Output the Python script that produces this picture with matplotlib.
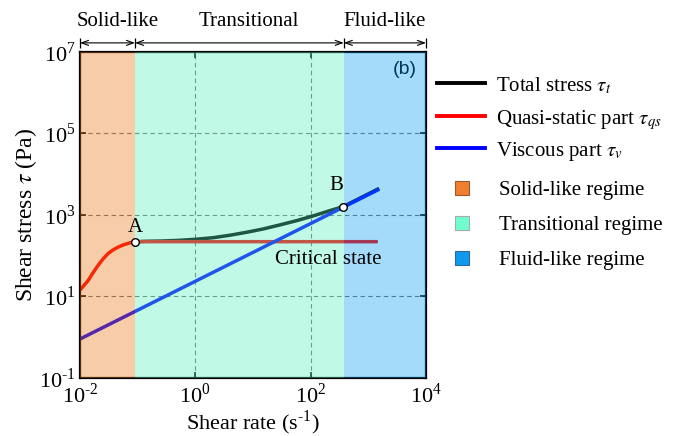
import matplotlib
matplotlib.use("Agg")
import matplotlib.pyplot as plt
from matplotlib.lines import Line2D
from matplotlib.patches import Rectangle
from matplotlib.ticker import FixedLocator, FuncFormatter, NullLocator
import numpy as np

plt.rcParams['font.family'] = ['Liberation Serif', 'DejaVu Serif']
plt.rcParams['mathtext.fontset'] = 'stix'

# values
rate_qs = [0.01, 0.0117, 0.0138, 0.0168, 0.0205, 0.0251, 0.0305, 0.0372, 0.0456,
           0.0562, 0.0679, 0.0794, 0.091, 1460]
tau_qs = [14.5, 18.6, 24.5, 38, 57.5, 83, 112, 138, 162, 184, 200, 214, 221, 221]

rate_v = [0.01, 1540]
tau_v = [0.905, 4270]

rate_total = [0.0908, 0.143, 0.278, 0.541, 1.05, 2.04, 3.98, 7.74, 15.0, 29.2,
              57.0, 110, 215, 366, 1540]
tau_total = [221, 226, 230, 239, 254, 277, 318, 376, 453, 569, 724, 944, 1276,
             1600, 4470]

point_rate = [0.0908, 366]
point_tau = [221, 1600]

regime_names = ['Solid-like', 'Transitional', 'Fluid-like']
regime_edges = [0.01, 0.09, 375, 10000]
regime_colors = ['#eb7310', '#55f0bd', '#059bf2']

fig = plt.figure(figsize=(6.79, 4.36), dpi=100)
ax = fig.add_axes([0.1178, 0.133, 0.5096, 0.748])

ax.plot(rate_total, tau_total, color='black', lw=2.5, zorder=2, solid_capstyle='butt')
ax.plot(rate_qs, tau_qs, color='red', lw=2.5, zorder=2.1, solid_capstyle='butt')
ax.plot(rate_v, tau_v, color='blue', lw=2.5, zorder=2.2, solid_capstyle='butt')

ax.text(6900, 3.6e6, '(b)', ha='right', va='center', fontsize=14,
        family='Liberation Sans', zorder=2.3)

for i in range(3):
    ax.axvspan(regime_edges[i], regime_edges[i + 1], color=regime_colors[i],
               alpha=0.36, lw=0, zorder=5)

ax.plot(point_rate, point_tau, 'o', ms=5.5, mfc='white', mec='black', mew=1, zorder=6)
ax.text(0.09, 479, 'A', ha='center', va='center', fontsize=15, zorder=7)
ax.text(274, 5130, 'B', ha='center', va='center', fontsize=15, zorder=7)
ax.text(200, 80, 'Critical state', ha='center', va='center', fontsize=15, zorder=7)


def sci(v, pos):
    e = int(round(np.log10(v)))
    s = str(e).replace('-', '\u2010')
    return '10$^{\\mathdefault{' + s + '}}$'


ax.set_xscale('log')
ax.set_yscale('log')
ax.set_xlim(1e-2, 1e4)
ax.set_ylim(1e-1, 1e7)
ax.xaxis.set_major_locator(FixedLocator([1e-2, 1e0, 1e2, 1e4]))
ax.yaxis.set_major_locator(FixedLocator([1e-1, 1e1, 1e3, 1e5, 1e7]))
ax.xaxis.set_minor_locator(NullLocator())
ax.yaxis.set_minor_locator(NullLocator())
ax.xaxis.set_major_formatter(FuncFormatter(sci))
ax.yaxis.set_major_formatter(FuncFormatter(sci))
ax.tick_params(direction='in', top=True, right=True, labelsize=16, length=4, width=1.2, pad=3)
ax.tick_params(axis='x', pad=4)
for sp in ax.spines.values():
    sp.set_linewidth(1.6)
ax.grid(True, ls=(0, (4, 3)), color='#707070', lw=0.8)

ax.set_xlabel('Shear rate (s$^{\\mathdefault{\u20101}}$)', fontsize=16, labelpad=1)
ax.set_ylabel('Shear stress $\\tau$ (Pa)', fontsize=17, labelpad=0)

# regime arrows above the plot
text_x = [0.0455, 8.5, 1950]
tr = ax.get_xaxis_transform()
for i in range(3):
    ax.annotate('', xy=(regime_edges[i], 1.0276), xytext=(regime_edges[i + 1], 1.0276),
                xycoords=tr, textcoords=tr,
                arrowprops=dict(arrowstyle='<->, head_length=0.5, head_width=0.18', lw=0.8,
                                color='black', shrinkA=0, shrinkB=0),
                annotation_clip=False)
    ax.text(text_x[i], 1.092, regime_names[i], transform=tr,
            ha='center', va='center', fontsize=15)
ax.vlines(regime_edges, 1.012, 1.044, transform=tr, colors='black', lw=0.9, clip_on=False)

# legend drawn by hand to match the row spacing
line_colors = ['black', 'red', 'blue']
line_labels = ['Total stress $\\tau_t$', 'Quasi-static part $\\tau_{qs}$', 'Viscous part $\\tau_v$']
line_rows = [83, 116, 148]
for c, lab, yp in zip(line_colors, line_labels, line_rows):
    yf = 1 - yp / 436
    fig.add_artist(Line2D([437 / 679, 485 / 679], [yf, yf], color=c, lw=2.8))
    fig.text(496 / 679, yf, lab, fontsize=15, va='center_baseline', ha='left')

patch_colors = ['#ee8030', '#70ffcc', '#1199ee']
patch_edges = ['#9a5a2a', '#aaaaaa', '#336699']
patch_labels = ['Solid-like regime', 'Transitional regime', 'Fluid-like regime']
patch_rows = [188, 223, 258]
for c, ec, lab, yp in zip(patch_colors, patch_edges, patch_labels, patch_rows):
    yf = 1 - yp / 436
    fig.add_artist(Rectangle((455 / 679, yf - 7 / 436), 14 / 679, 14 / 436,
                             facecolor=c, edgecolor=ec, lw=0.8, transform=fig.transFigure))
    fig.text(499 / 679, yf, lab, fontsize=15, va='center_baseline', ha='left')

fig.savefig('out.png', dpi=100)
